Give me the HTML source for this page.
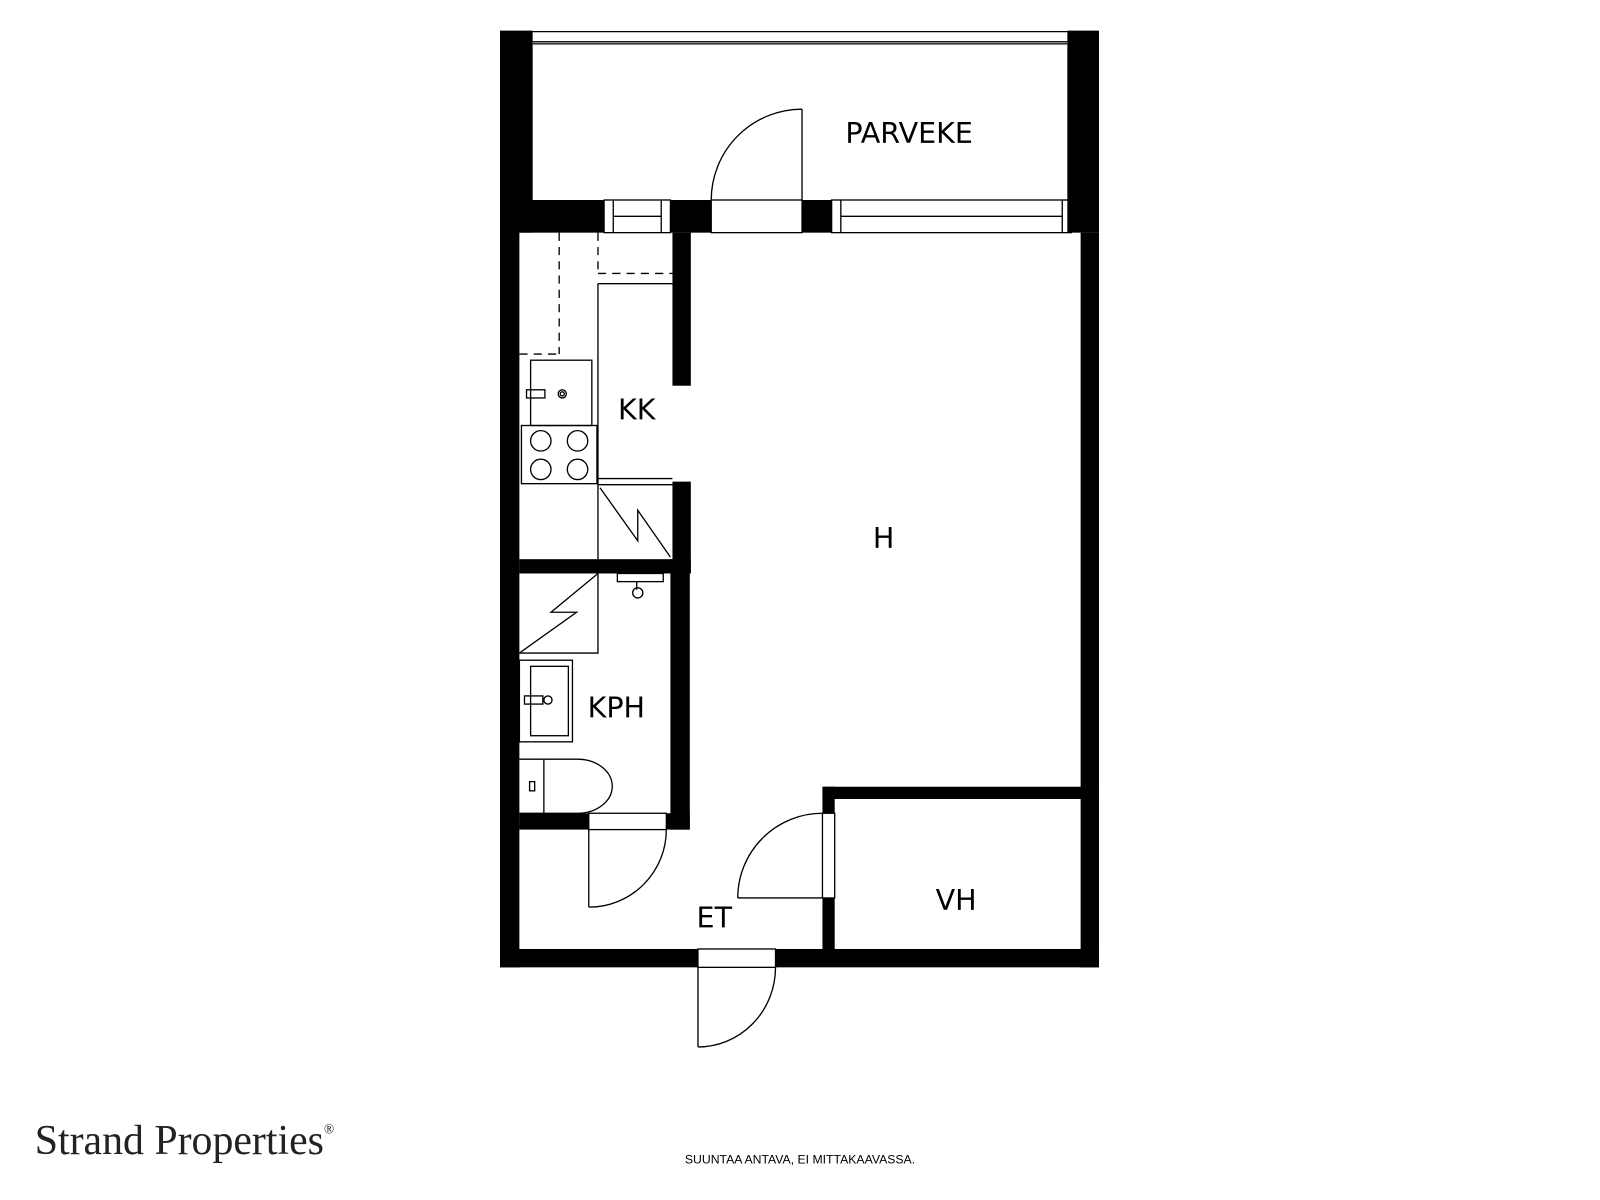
<!DOCTYPE html>
<html><head><meta charset="utf-8"><style>
html,body{margin:0;padding:0;background:#fff;}
svg{display:block;}
</style></head><body>
<svg width="1600" height="1200" viewBox="0 0 1568 1176" xmlns="http://www.w3.org/2000/svg">
<rect width="1568" height="1176" fill="#fff"/>
<g fill="#000">
<rect x="490" y="30" width="32" height="198"/>
<rect x="1046" y="30" width="31" height="198"/>
<rect x="490" y="196" width="102" height="32"/>
<rect x="657" y="196" width="40" height="32"/>
<rect x="786" y="196" width="29" height="32"/>
<rect x="490" y="196" width="19" height="752"/>
<rect x="1059" y="228" width="18" height="720"/>
<rect x="490" y="930" width="194" height="18"/>
<rect x="760" y="930" width="317" height="18"/>
<rect x="659" y="228" width="18" height="150"/>
<rect x="659" y="472" width="18" height="90"/>
<rect x="509" y="548" width="168" height="14"/>
<rect x="657" y="548" width="19" height="265"/>
<rect x="509" y="797" width="68" height="16"/>
<rect x="653" y="797" width="23" height="16"/>
<rect x="806" y="771" width="271" height="12"/>
<rect x="806" y="771" width="12" height="26"/>
<rect x="806" y="880" width="12" height="60"/>
</g>
<g fill="none" stroke="#000" stroke-width="1.3">
<line x1="522" y1="31" x2="1046" y2="31"/>
<line x1="522" y1="41" x2="1046" y2="41"/>
<line x1="522" y1="43" x2="1046" y2="43"/>
<rect x="592" y="196" width="65" height="32"/>
<line x1="601" y1="196" x2="601" y2="228"/><line x1="648" y1="196" x2="648" y2="228"/>
<line x1="601" y1="212" x2="648" y2="212"/>
<rect x="815" y="196" width="235" height="32"/>
<line x1="824" y1="196" x2="824" y2="228"/><line x1="1041" y1="196" x2="1041" y2="228"/>
<line x1="824" y1="212" x2="1041" y2="212"/>
<rect x="697" y="196" width="89" height="32"/>
<line x1="786" y1="196" x2="786" y2="107"/>
<path d="M697 196 A89 89 0 0 1 786 107"/>
<g stroke-dasharray="8,6">
<line x1="548" y1="228" x2="548" y2="347"/><line x1="509" y1="347" x2="548" y2="347"/>
<line x1="586" y1="228" x2="586" y2="268"/><line x1="586" y1="268" x2="659" y2="268"/>
</g>
<line x1="586" y1="278" x2="659" y2="278"/>
<line x1="586" y1="278" x2="586" y2="548"/>
<rect x="520" y="353" width="60" height="64"/>
<rect x="516" y="382" width="18" height="8"/>
<circle cx="551" cy="386" r="4"/><circle cx="551" cy="386" r="2"/>
<rect x="511" y="417" width="74" height="57"/>
<circle cx="530" cy="432" r="10"/><circle cx="566" cy="432" r="10"/>
<circle cx="530" cy="460" r="10"/><circle cx="566" cy="460" r="10"/>
<line x1="586" y1="469" x2="659" y2="469"/><line x1="586" y1="475" x2="659" y2="475"/>
<polyline points="588,478 625,530 625,500 657,546"/>
<polyline points="586,562 586,640 509,640"/>
<polyline points="586,562 540,600 565,600 509,640"/>
<rect x="605" y="562" width="45" height="8"/>
<line x1="624" y1="570" x2="624" y2="578"/>
<circle cx="625" cy="581" r="5"/>
<rect x="509" y="647" width="52" height="80"/>
<rect x="520" y="653" width="37" height="68"/>
<rect x="514" y="682" width="18" height="8"/>
<circle cx="537" cy="686" r="4"/>
<path d="M509 744 H566 A34 26.5 0 0 1 566 797 H509"/>
<line x1="533" y1="744" x2="533" y2="797"/>
<rect x="519" y="766" width="5" height="9"/>
<rect x="577" y="797" width="76" height="16"/>
<line x1="577" y1="813" x2="577" y2="889"/>
<path d="M577 889 A76 76 0 0 0 653 813"/>
<rect x="806" y="797" width="12" height="83"/>
<line x1="723" y1="880" x2="806" y2="880"/>
<path d="M723 880 A83 83 0 0 1 806 797"/>
<rect x="684" y="930" width="76" height="18"/>
<line x1="684" y1="948" x2="684" y2="1026"/>
<path d="M684 1026 A76 78 0 0 0 760 948"/>
</g>
<g font-family="'DejaVu Sans','Liberation Sans',sans-serif" font-size="28" fill="#000" text-anchor="middle">
<text x="891" y="140">PARVEKE</text>
<text x="624" y="411">KK</text>
<text x="866" y="537">H</text>
<text x="604" y="703">KPH</text>
<text x="700" y="909">ET</text>
<text x="937" y="892">VH</text>
</g>
<text x="34" y="1131" font-family="'Liberation Serif',serif" font-size="41" fill="#222">Strand Properties<tspan font-size="13" dy="-20">®</tspan></text>
<text x="784" y="1140" font-family="'Liberation Sans',sans-serif" font-size="12" fill="#000" text-anchor="middle">SUUNTAA ANTAVA, EI MITTAKAAVASSA.</text>
</svg>
</body></html>
